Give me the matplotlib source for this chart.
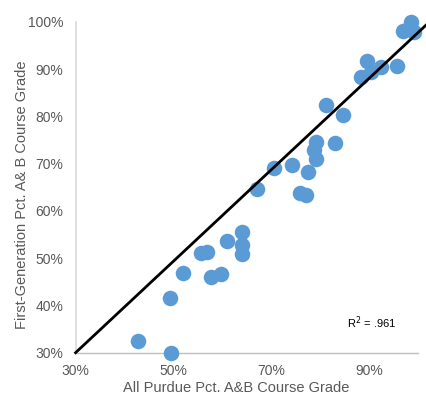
import matplotlib
matplotlib.use('Agg')
import matplotlib.pyplot as plt
from matplotlib.ticker import PercentFormatter

plt.rcParams['font.family'] = ['Liberation Sans', 'DejaVu Sans']

# all Purdue pct A&B (x) vs first-generation pct A&B (y), in percent
all_purdue = [42.8, 49.5, 49.3, 52.0, 57.6, 59.7, 55.6, 56.8, 60.9, 64.1,
              64.0, 64.0, 67.1, 70.5, 74.3, 77.5, 75.8, 77.1, 79.2, 78.8,
              79.2, 83.1, 81.2, 84.6, 88.3, 89.5, 90.3, 92.5, 95.7, 96.9,
              98.6, 99.1]
first_gen = [32.5, 29.9, 41.5, 46.8, 46.1, 46.7, 51.1, 51.4, 53.7, 55.5,
             52.8, 50.9, 64.7, 69.0, 69.8, 68.3, 63.8, 63.3, 74.6, 72.9,
             70.9, 74.3, 82.5, 80.3, 88.3, 91.7, 89.5, 90.5, 90.7, 98.1,
             100.0, 97.9]

# trend line (as drawn)
trend_slope = 0.968
trend_intercept = 0.96
trend_x = [30, 101.9]

gray = '#595959'

fig = plt.figure(figsize=(4.27, 3.97), dpi=100)
ax = fig.add_axes([0.177, 0.1116, 0.802, 0.833])

ax.scatter(all_purdue, first_gen, s=125, color='#5B9BD5', linewidths=0,
           clip_on=False, zorder=3)
ax.plot(trend_x, [trend_intercept + trend_slope * v for v in trend_x],
        color='black', lw=2, clip_on=False, zorder=4)

ax.set_xlim(30, 100)
ax.set_ylim(30, 100)
ax.set_xticks([30, 50, 70, 90])
ax.set_yticks(range(30, 101, 10))
ax.xaxis.set_major_formatter(PercentFormatter(decimals=0))
ax.yaxis.set_major_formatter(PercentFormatter(decimals=0))
ax.tick_params(length=0, labelsize=10, labelcolor=gray)
ax.tick_params(axis='y', pad=9)
ax.tick_params(axis='x', pad=8)

for side in ['top', 'right']:
    ax.spines[side].set_visible(False)
ax.spines['left'].set_color('#D9D9D9')
ax.spines['bottom'].set_color('#BFBFBF')
ax.spines['left'].set_linewidth(1.2)
ax.spines['bottom'].set_linewidth(1)

ax.set_xlabel('All Purdue Pct. A&B Course Grade', fontsize=10.5, color=gray)
ax.set_ylabel('First-Generation Pct. A& B Course Grade', fontsize=10.5, color=gray)
ax.xaxis.set_label_coords(0.469, -0.108)
ax.yaxis.set_label_coords(-0.157, 0.478)
ax.xaxis.label.set_va('center')
ax.yaxis.label.set_va('center')

ax.text(90.6, 36.4, 'R$^2$ = .961', fontsize=8, ha='center', va='center', color='black')

fig.savefig('out.png', dpi=100)
